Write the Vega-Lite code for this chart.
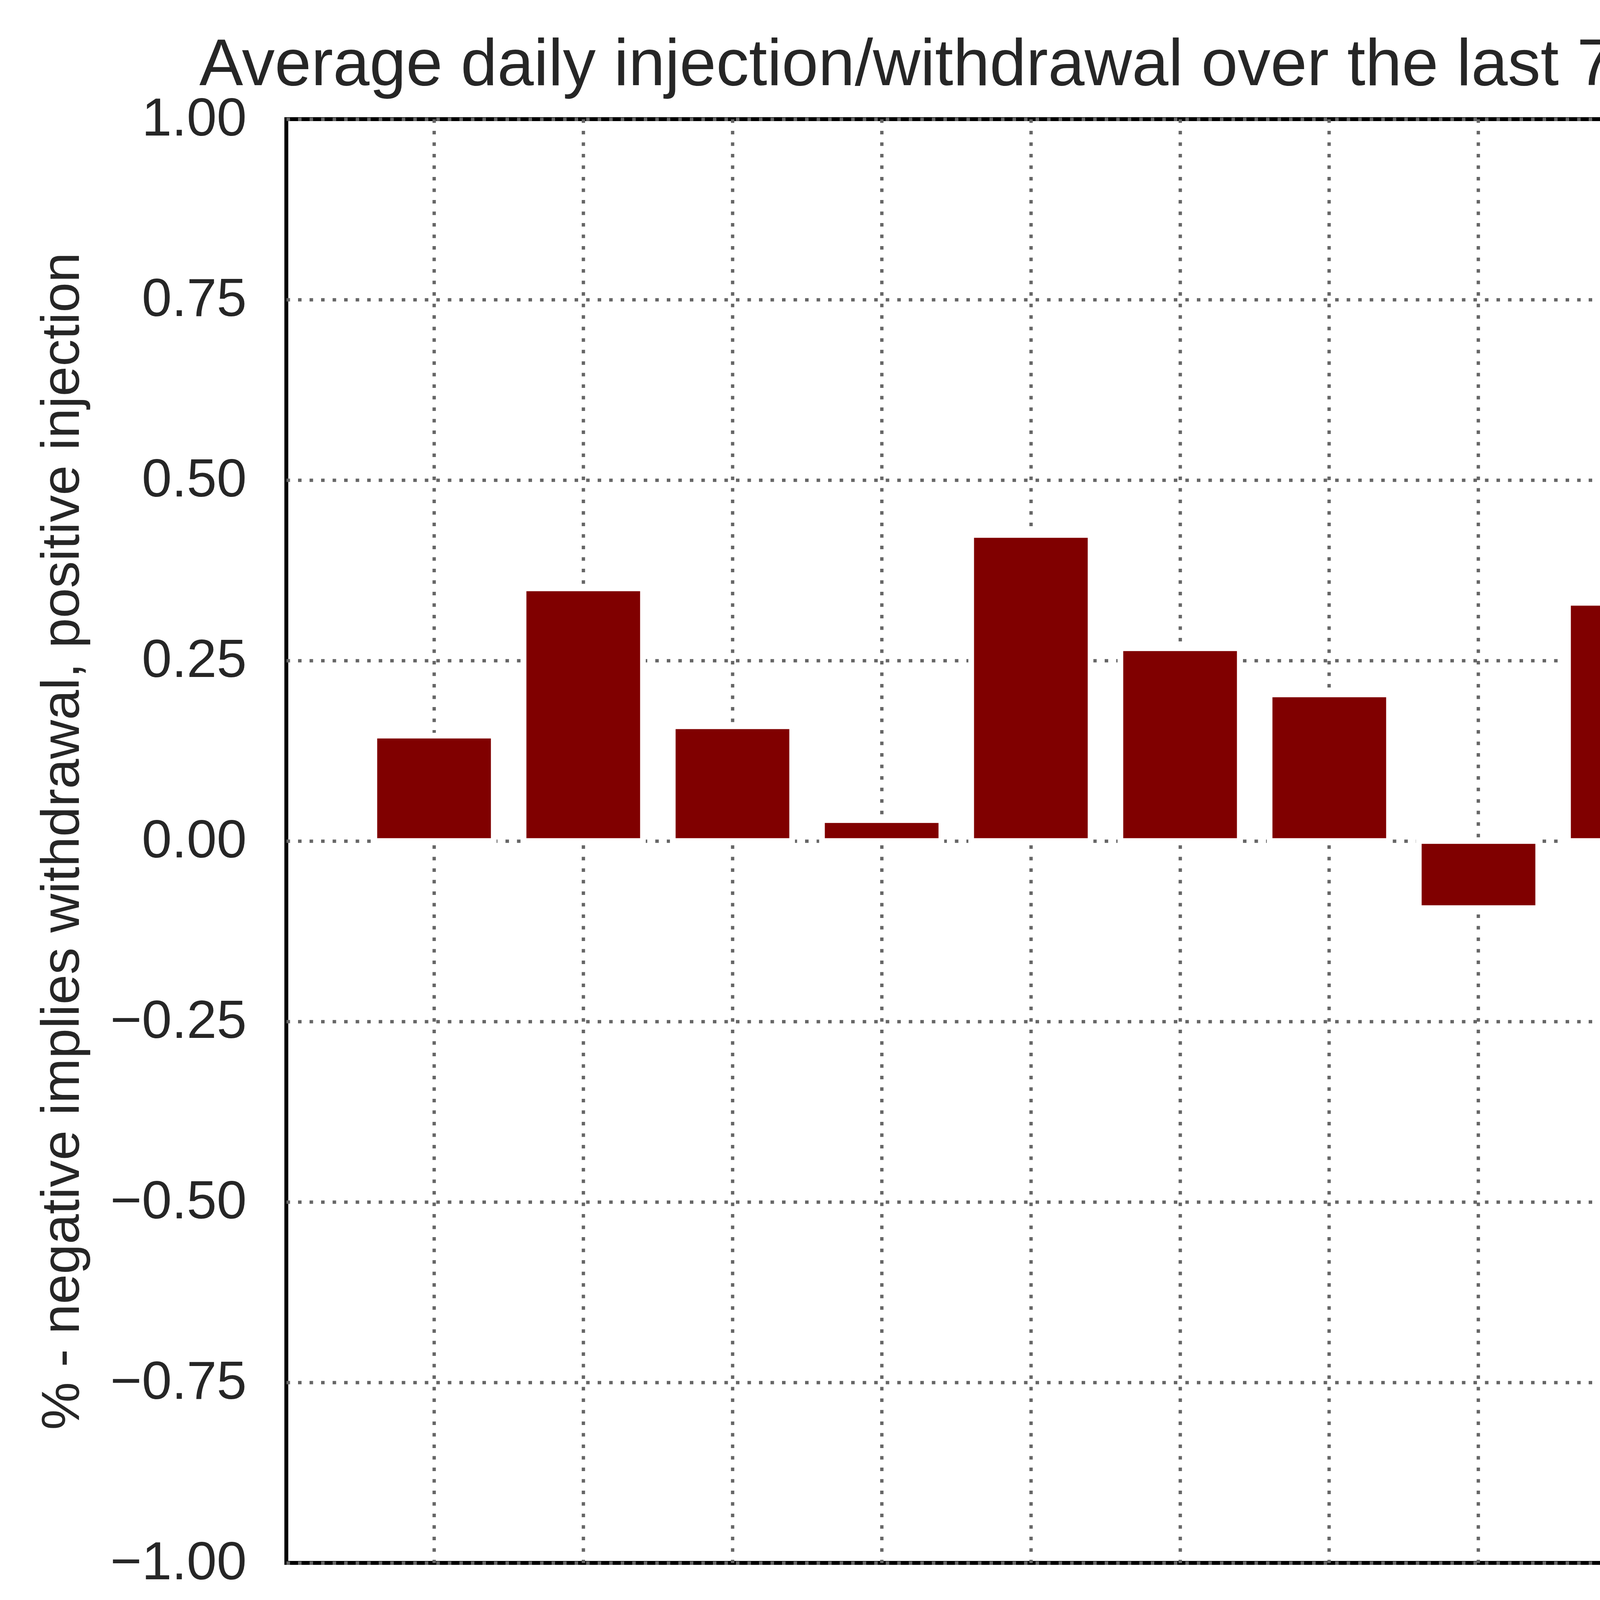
{
  "$schema": "https://vega.github.io/schema/vega-lite/v6.json",
  "autosize": {"type": "none"},
  "padding": {"left": 733, "top": 305, "right": 310, "bottom": 945},
  "width": 4958,
  "height": 3696,
  "background": "white",
  "title": {
    "text": "Average daily injection/withdrawal over the last 7 days (as % of capacity)",
    "font": "Liberation Sans",
    "fontSize": 168,
    "fontWeight": "normal",
    "color": "#262626",
    "anchor": "middle",
    "frame": "group",
    "baseline": "alphabetic",
    "offset": -150,
    "limit": 6000
  },
  "config": {
    "view": {"stroke": "black", "strokeWidth": 10},
    "axis": {
      "labelFont": "Liberation Sans",
      "titleFont": "Liberation Sans",
      "labelColor": "#262626",
      "titleColor": "#262626",
      "labelFontSize": 138,
      "titleFontSize": 138,
      "titleFontWeight": "normal",
      "labelLimit": 3000,
      "titleLimit": 5000,
      "domain": false,
      "ticks": false,
      "tickSize": 0,
      "grid": true,
      "gridColor": "#666666",
      "gridWidth": 8.5,
      "gridDash": [9, 20.5],
      "gridOpacity": 1
    }
  },
  "data": {
    "values": [
      {"country": "Austria", "value": 0.146},
      {"country": "Czechia", "value": 0.350},
      {"country": "Germany", "value": 0.159},
      {"country": "Spain", "value": 0.029},
      {"country": "France", "value": 0.424},
      {"country": "Hungary", "value": 0.267},
      {"country": "Italy", "value": 0.203},
      {"country": "Latvia", "value": -0.093},
      {"country": "Netherlands", "value": 0.330},
      {"country": "Poland", "value": 0.297},
      {"country": "Romania", "value": 0.348},
      {"country": "Slovakia", "value": 0.236}
    ]
  },
  "mark": {"type": "bar", "color": "#800000", "stroke": "white", "strokeWidth": 14.5},
  "encoding": {
    "x": {
      "field": "country",
      "type": "nominal",
      "sort": null,
      "scale": {"paddingInner": 0.2, "paddingOuter": 0.59},
      "axis": {
        "title": null,
        "labelAngle": 270,
        "labelAlign": "right",
        "labelBaseline": "middle",
        "labelPadding": 102,
        "bandPosition": 0.5
      }
    },
    "y": {
      "field": "value",
      "type": "quantitative",
      "scale": {"domain": [-1, 1], "nice": false, "zero": false},
      "axis": {
        "title": "% - negative implies withdrawal, positive injection",
        "values": [-1, -0.75, -0.5, -0.25, 0, 0.25, 0.5, 0.75, 1],
        "format": ".2f",
        "labelPadding": 102,
        "titleAngle": 270,
        "titleAlign": "center",
        "titleBaseline": "alphabetic",
        "titleX": -532,
        "titleY": 1848
      }
    }
  }
}
